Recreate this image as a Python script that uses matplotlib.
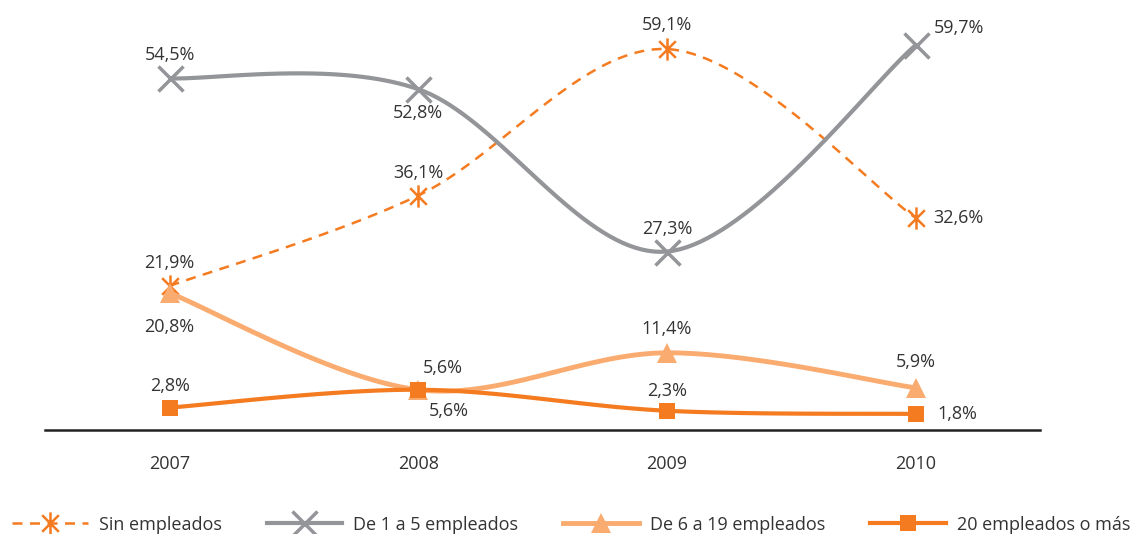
import numpy as np
import matplotlib
matplotlib.use('Agg')
import matplotlib.pyplot as plt
from matplotlib.path import Path

years = ['2007', '2008', '2009', '2010']
sin_empleados = [21.9, 36.1, 59.1, 32.6]
de_1_a_5 = [54.5, 52.8, 27.3, 59.7]
de_6_a_19 = [20.8, 5.6, 11.4, 5.9]
mas_de_20 = [2.8, 5.6, 2.3, 1.8]

series_names = ['Sin empleados', 'De 1 a 5 empleados', 'De 6 a 19 empleados', '20 empleados o más']

orange = '#F47B20'
light_orange = '#FAAB6F'
gray = '#939598'
text_color = '#333333'

plt.rcParams['font.family'] = ['Open Sans', 'DejaVu Sans']


def smooth(xs, ys, n=40):
    # bezier smoothing like a spreadsheet "smoothed line"
    xs = np.asarray(xs, float)
    ys = np.asarray(ys, float)
    px, py = [], []
    for i in range(len(xs) - 1):
        i0 = max(i - 1, 0)
        i3 = min(i + 2, len(xs) - 1)
        p0 = np.array([xs[i], ys[i]])
        p3 = np.array([xs[i + 1], ys[i + 1]])
        c1 = p0 + (p3 - np.array([xs[i0], ys[i0]])) / 6
        c2 = p3 - (np.array([xs[i3], ys[i3]]) - p0) / 6
        t = np.linspace(0, 1, n)[:, None]
        pts = (1 - t) ** 3 * p0 + 3 * (1 - t) ** 2 * t * c1 + 3 * (1 - t) * t ** 2 * c2 + t ** 3 * p3
        px.extend(pts[:, 0])
        py.extend(pts[:, 1])
    return px, py


star = Path([(0, -1), (0, 1), (-0.75, -0.75), (0.75, 0.75), (-0.75, 0.75), (0.75, -0.75)],
            [Path.MOVETO, Path.LINETO, Path.MOVETO, Path.LINETO, Path.MOVETO, Path.LINETO])

fig = plt.figure(figsize=(11.31, 5.34), dpi=100)
ax = fig.add_axes([0.040, 0.195, 0.8795, 0.7835])
x = np.arange(len(years))

styles = [
    dict(color=orange, lw=1.8, ls=(0, (4, 3)), marker=star, ms=16, mew=1.8),
    dict(color=gray, lw=3.0, ls='-', marker='x', ms=18, mew=2.5),
    dict(color=light_orange, lw=3.5, ls='-', marker='^', ms=15, mew=0),
    dict(color=orange, lw=3.0, ls='-', marker='s', ms=12, mew=0),
]
data = [sin_empleados, de_1_a_5, de_6_a_19, mas_de_20]
handles = []
for vals, st, name in zip(data, styles, series_names):
    sx, sy = smooth(x, vals)
    ax.plot(sx, sy, color=st['color'], lw=st['lw'], ls=st['ls'], solid_capstyle='butt')
    ax.plot(x, vals, ls='none', marker=st['marker'], ms=st['ms'], mew=st['mew'],
            color=st['color'], mec=st['color'])
    h, = ax.plot([], [], color=st['color'], lw=st['lw'], ls=st['ls'], marker=st['marker'],
                 ms=st['ms'], mew=st['mew'], mec=st['color'])
    handles.append(h)

# label offsets in points (dx, dy, ha, va)
offsets = [
    [(0, 10, 'center', 'bottom'), (0, 10, 'center', 'bottom'), (0, 11, 'center', 'bottom'), (13, 0, 'left', 'center')],
    [(0, 10, 'center', 'bottom'), (0, -11, 'center', 'top'), (0, 10, 'center', 'bottom'), (13, 6, 'left', 'bottom')],
    [(0, -18, 'center', 'top'), (18, 9, 'center', 'bottom'), (0, 11, 'center', 'bottom'), (0, 12, 'center', 'bottom')],
    [(0, 9, 'center', 'bottom'), (22, -9, 'center', 'top'), (0, 8, 'center', 'bottom'), (16, 0, 'left', 'center')],
]
for vals, offs in zip(data, offsets):
    for xi, v, (dx, dy, ha, va) in zip(x, vals, offs):
        ax.annotate(f'{v:.1f}%'.replace('.', ','), (xi, v), xytext=(dx, dy),
                    textcoords='offset points', ha=ha, va=va,
                    fontsize=13, color=text_color)

ax.set_xlim(-0.5, 3.5)
ax.set_ylim(-0.7, 65)
ax.set_xticks(x)
ax.set_xticklabels(years, fontsize=13, color=text_color)
ax.tick_params(axis='x', length=0, pad=18)
ax.set_yticks([])
for s in ['top', 'right', 'left']:
    ax.spines[s].set_visible(False)
ax.spines['bottom'].set_color('#222222')
ax.spines['bottom'].set_linewidth(1.8)

fig.legend(handles, series_names, loc='lower center', ncol=4, frameon=False,
           bbox_to_anchor=(0.505, -0.03), fontsize=13, handlelength=4.2, handletextpad=0.6,
           columnspacing=2.5, labelcolor=text_color)

fig.savefig('out.png', dpi=100)
